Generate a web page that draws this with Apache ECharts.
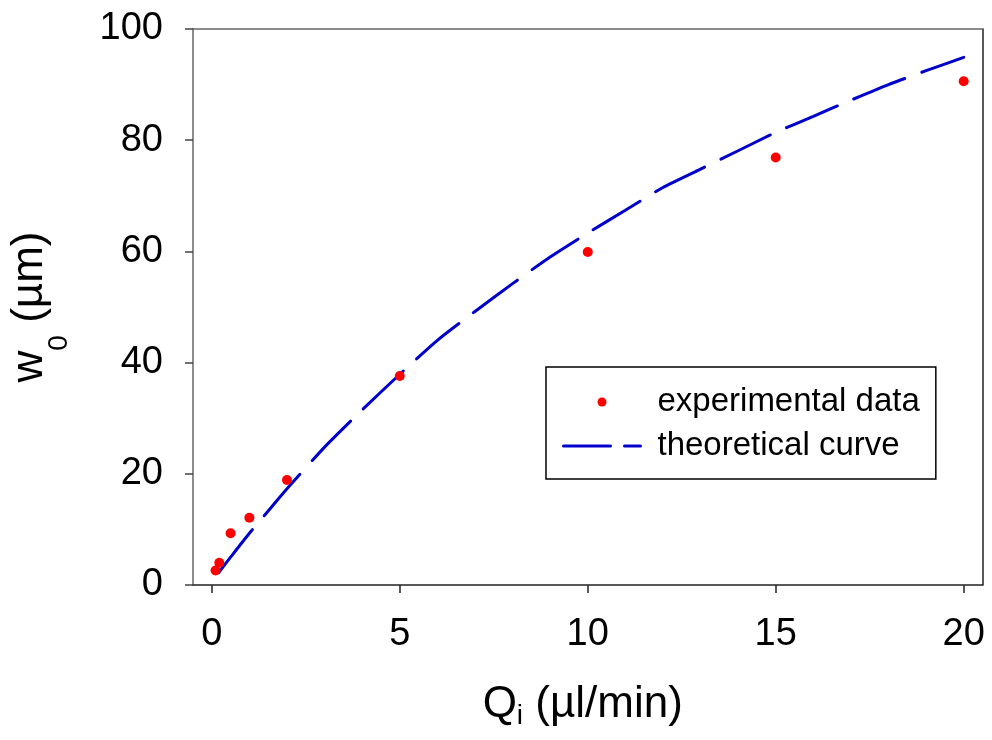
<!DOCTYPE html>
<html>
<head>
<meta charset="utf-8">
<script src="https://cdn.jsdelivr.net/npm/echarts@6/dist/echarts.min.js"></script>
<style>html,body{margin:0;padding:0;background:#fff}#c{width:992px;height:740px}</style>
</head>
<body>
<div id="c"></div>
<script>
// experimental data
const qExp = [0.1, 0.2, 0.5, 1, 2, 5, 10, 15, 20];
const wExp = [2.6, 4.0, 9.3, 12.1, 18.9, 37.6, 59.9, 76.9, 90.6];
// theoretical curve
const qTheory = [0.18, 0.5, 1, 1.5, 2, 3, 4, 5, 6, 7, 8, 9, 10, 11, 12, 13, 14, 15, 16, 17, 18, 19, 20];
const wTheory = [2.2, 5.0, 9.3, 13.3, 17.3, 24.8, 31.5, 37.9, 44.0, 49.2, 54.2, 59.0, 63.3, 67.4, 71.5, 74.8, 78.1, 81.4, 84.3, 87.2, 90.0, 92.5, 94.9];
const xTicks = [0, 5, 10, 15, 20];
const seriesNames = ['experimental data', 'theoretical curve'];

const FONT = '"Liberation Sans", Arial, sans-serif';
const chart = echarts.init(document.getElementById('c'), null, {renderer: 'canvas'});
const zip = (a, b) => a.map((v, i) => [v, b[i]]);

chart.setOption({
  animation: false,
  backgroundColor: '#fff',
  grid: {left: 189, top: 29, right: 9.5, bottom: 155, containLabel: false},
  xAxis: [{
    type: 'value', min: -0.5, max: 20.5, position: 'bottom',
    axisLine: {show: true, onZero: false, lineStyle: {color: '#222', width: 1.5}},
    axisTick: {show: true, inside: false, length: 8, customValues: xTicks, lineStyle: {color: '#222', width: 1.5}},
    axisLabel: {show: true, customValues: xTicks, margin: 31, fontFamily: FONT, fontSize: 38, color: '#000'},
    splitLine: {show: false},
    name: '{n|Q}{s|i}{n| (µl/min)}',
    nameLocation: 'middle', nameGap: 95,
    nameTextStyle: {
      fontFamily: FONT, color: '#000', padding: [0, 10, 0, 0],
      rich: {
        n: {fontFamily: FONT, fontSize: 44, color: '#000', lineHeight: 50},
        s: {fontFamily: FONT, fontSize: 28, color: '#000', verticalAlign: 'bottom', lineHeight: 50}
      }
    }
  }, {
    type: 'value', min: -0.5, max: 20.5, position: 'top',
    axisLine: {show: true, onZero: false, lineStyle: {color: '#666', width: 1.5}},
    axisTick: {show: false}, axisLabel: {show: false}, splitLine: {show: false}
  }],
  yAxis: [{
    type: 'value', min: 0, max: 100, interval: 20, position: 'left',
    axisLine: {show: true, onZero: false, lineStyle: {color: '#666', width: 1.5}},
    axisTick: {show: true, inside: false, length: 8, lineStyle: {color: '#444', width: 1.5}},
    axisLabel: {show: true, margin: 30, fontFamily: FONT, fontSize: 38, color: '#000'},
    splitLine: {show: false},
    name: '{n|w}{s|0}{n| (µm)}',
    nameLocation: 'middle', nameRotate: 90, nameGap: 120,
    nameTextStyle: {
      fontFamily: FONT, color: '#000',
      rich: {
        n: {fontFamily: FONT, fontSize: 44, color: '#000', lineHeight: 86},
        s: {fontFamily: FONT, fontSize: 28, color: '#000', verticalAlign: 'bottom', lineHeight: 86}
      }
    }
  }, {
    type: 'value', min: 0, max: 100, position: 'right',
    axisLine: {show: true, onZero: false, lineStyle: {color: '#222', width: 1.5}},
    axisTick: {show: false}, axisLabel: {show: false}, splitLine: {show: false}
  }],
  legend: {
    left: 546, top: 367, orient: 'vertical',
    padding: [13, 16, 11, 16],
    itemGap: 0, itemWidth: 77, itemHeight: 9,
    borderColor: '#000', borderWidth: 1.5, backgroundColor: '#fff',
    textStyle: {fontFamily: FONT, fontSize: 33, color: '#000', lineHeight: 44, padding: [0, 0, 0, 12]},
    data: [
      {name: seriesNames[0], icon: 'circle', itemStyle: {color: '#ff0000', opacity: 1}},
      {name: seriesNames[1], itemStyle: {opacity: 0}, lineStyle: {type: [47, 14], width: 3, color: '#0000cc', opacity: 1}}
    ]
  },
  series: [{
    name: seriesNames[1], type: 'line', xAxisIndex: 0, yAxisIndex: 0,
    data: zip(qTheory, wTheory), smooth: 0.2, symbol: 'none', showSymbol: false,
    lineStyle: {color: '#0000cc', width: 3, type: [55, 18], cap: 'round'},
    itemStyle: {color: '#0000cc'}, z: 2
  }, {
    name: seriesNames[0], type: 'scatter', xAxisIndex: 0, yAxisIndex: 0,
    data: zip(qExp, wExp), symbol: 'circle', symbolSize: 10,
    itemStyle: {color: '#ff0000', opacity: 1}, z: 3
  }]
});
</script>
</body>
</html>
